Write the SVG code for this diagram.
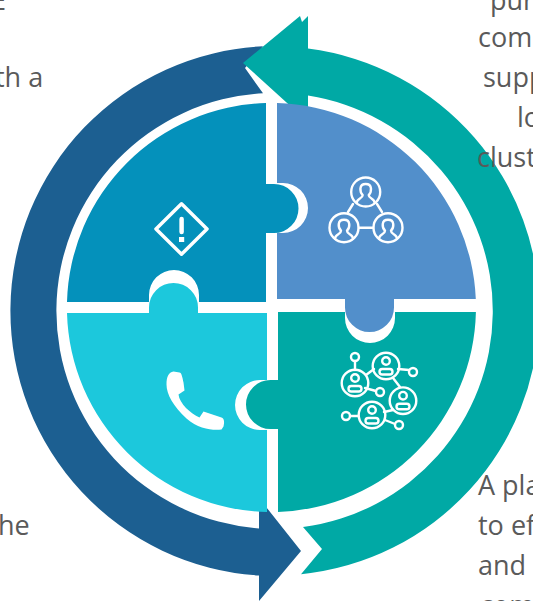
<svg xmlns="http://www.w3.org/2000/svg" width="533" height="601" viewBox="0 0 533 601">
<style>
.t{font-family:"Open Sans","Noto Sans",sans-serif;font-size:27px;fill:#5a5a5a}
.i{fill:none;stroke:#fff;stroke-width:2.4;stroke-linecap:round;stroke-linejoin:round}
</style>
<defs>
<g id="person"><circle r="14.500"/><path d="M-9 11C-9 6-3 7-3 3C-6 0-7-8 0-8C7-8 6 0 3 3C3 7 9 6 9 11"/></g>
<g id="face"><circle r="13.300"/><circle cy="-5" r="3.800"/><rect x="-6.500" y="3" width="13" height="5.500" rx="2.700"/></g>
</defs>
<rect width="533" height="601" fill="#fff"/>
<g id="connectors">
<path id="arrow-left" fill="#1c5f91" d="M259 498L301 551L259 601V575.500A265 265 0 0 1 263 46.300L245 68L263 93.300A218.500 218 0 0 0 259 528.400Z"/>
<path fill="#1c5f91" d="M290 105.700L304 118.400L302 118.600L290 107.700Z"/>
<path id="arrow-right" fill="#00a9a5" d="M300 16L302 22L308 16V48.600A264.500 264.500 0 0 1 301 574.200L322 549L303 527.100A218.500 218 0 0 0 308 95.600V122L243 63Z"/>
</g>
<g id="node-alert">
<path fill="#0491bb" d="M266 302H199V295A25 25 0 0 0 149 295V302H67A204.500 204.500 0 0 1 266 103.100V184H274A24.500 24.500 0 0 1 274 233H266Z"/>
<path class="i" style="stroke-width:3.500" d="M181.500 203.800L207 229L181.500 254.200L156 229Z"/>
<path class="i" style="stroke-width:4.500" d="M181.600 219V232"/>
<rect x="179" y="237" width="5.200" height="5" fill="#fff"/>
</g>
<g id="node-team">
<path fill="#528fcb" d="M277 103.100A204.500 204.500 0 0 1 475.800 299H394V307.500A24.500 24.500 0 0 1 345 307.500V299H277V233H283A25 25 0 0 0 283 183H277Z"/>
<g class="i">
<use href="#person" x="365.700" y="192"/><use href="#person" x="344" y="227.700"/><use href="#person" x="388" y="227.700"/>
<path d="M353 204L348 212M377 204L382 212M359 227.700H373"/>
</g>
</g>
<g id="node-phone">
<path fill="#1cc8dc" d="M67 313H149V307.500A24.500 24.500 0 0 1 198 307.500V313H267V380H260A25 25 0 0 0 260 430H267V512A204.500 204.500 0 0 1 67 313Z"/>
<path fill="#fff" transform="translate(3.500 1.500)" d="M170 370L176 371C178 371 179 376 180 381L181 389L175 393C176 402 187 412 196 416L200 410L218 416C221 417 221 421 220 425L218 428C210 429 195 428 183 417C170 405 163 393 163 383C163 375 165 371 170 370Z"/>
</g>
<g id="node-network">
<path fill="#00a9a5" d="M278 312H345V318A25 25 0 0 0 395 318V312H475.900A204.500 204.500 0 0 1 278 511.900V429H270.500A24.500 24.500 0 0 1 270.500 380H278Z"/>
<g class="i">
<use href="#face" x="386" y="366"/><use href="#face" x="355" y="383"/><use href="#face" x="403" y="400.700"/><use href="#face" x="372" y="415"/>
<circle cx="355" cy="357" r="4"/><circle cx="413" cy="372" r="4"/><circle cx="380" cy="392" r="4"/><circle cx="346" cy="416" r="4"/><circle cx="399" cy="425" r="4"/>
<path d="M355 361V370M366 375L374 369M398 369L409 370M365 388L376 391M393 378L400 387M393 410L384 412M350 416H358M385 420L395 424"/>
</g>
</g>
<g id="labels">
<text class="t" x="-9" y="10">E</text>
<text class="t" x="-5" y="87">th a</text>
<text class="t" x="-2" y="535">he</text>
<text class="t" x="490" y="10">pur</text>
<text class="t" x="478" y="47">com</text>
<text class="t" x="483" y="87">supp</text>
<text class="t" x="517" y="127">lo</text>
<text class="t" x="477" y="167">clust</text>
<text class="t" x="478" y="495">A pla</text>
<text class="t" x="478" y="535">to ef</text>
<text class="t" x="478" y="575">and</text>
<text class="t" x="480" y="615">com</text>
</g>
</svg>
